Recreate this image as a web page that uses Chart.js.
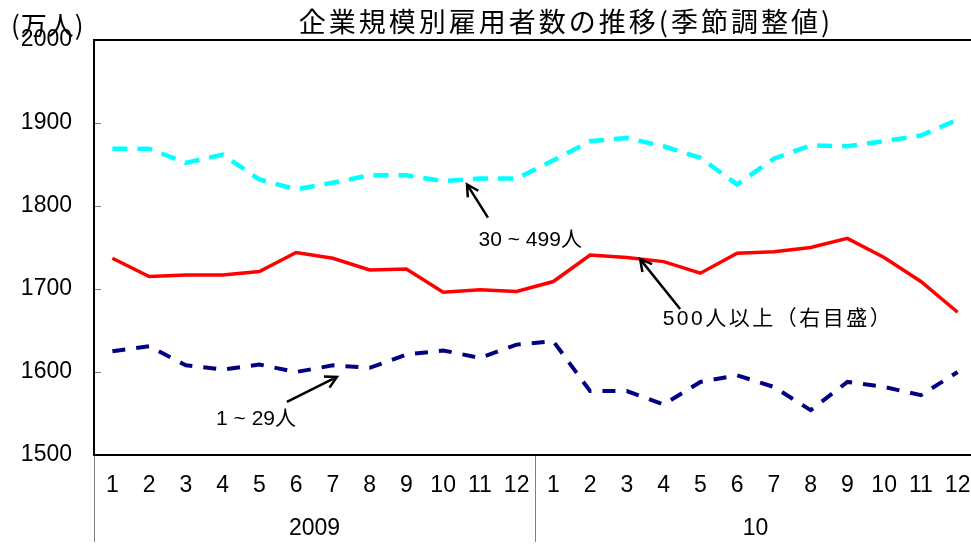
<!DOCTYPE html>
<html>
<head>
<meta charset="utf-8">
<script src="https://cdn.jsdelivr.net/npm/chart.js@4/dist/chart.umd.min.js"></script>
<style>
html,body{margin:0;padding:0;overflow:hidden;background:#fff}
#wrap{width:1000px;height:545px}
</style>
</head>
<body>
<div id="wrap"><canvas id="c" width="1000" height="545"></canvas></div>
<script>
// 月ラベルと年ラベル
const months = ['1','2','3','4','5','6','7','8','9','10','11','12','1','2','3','4','5','6','7','8','9','10','11','12'];
const years = ['2009','10'];

// 雇用者数（万人）
const small = [1625,1631,1608,1603,1609,1600,1608,1605,1621,1626,1617,1633,1637,1577,1577,1561,1588,1596,1582,1554,1588,1582,1572,1600]; // 1~29人
const mid = [1869,1869,1852,1862,1832,1820,1828,1837,1837,1830,1833,1833,1855,1878,1882,1872,1858,1826,1857,1873,1872,1878,1885,1904]; // 30~499人
const large = [1737,1715,1717,1717,1721,1744,1737,1723,1724,1696,1699,1697,1709,1741,1738,1733,1719,1743,1745,1750,1761,1738,1709,1672]; // 500人以上

const title = '企業規模別雇用者数の推移(季節調整値)';
const unit = '(万人)';

// 注記: テキストと矢印（index, 値）
const notes = [
  { text:'30 ~ 499人', at:[11.37,1759], from:[10.22,1786], to:[9.65,1826], sp:0 },
  { text:'500人以上（右目盛）', at:[18.11,1664], from:[15.45,1676], to:[14.36,1736], sp:2.5 },
  { text:'1 ~ 29人', at:[3.91,1543], from:[4.75,1564], to:[6.11,1594], sp:0 }
];

const numFont = '"Liberation Sans", "Noto Sans CJK JP", sans-serif';
const jpFont = '"Noto Sans CJK JP", sans-serif';

function arrow(ctx, x1, y1, x2, y2){
  const a = Math.atan2(y2-y1, x2-x1);
  const len = 13, sp = 0.5;
  ctx.beginPath();
  ctx.moveTo(x1,y1); ctx.lineTo(x2,y2);
  ctx.moveTo(x2 - len*Math.cos(a-sp), y2 - len*Math.sin(a-sp));
  ctx.lineTo(x2,y2);
  ctx.lineTo(x2 - len*Math.cos(a+sp), y2 - len*Math.sin(a+sp));
  ctx.stroke();
}

const decor = {
  id:'decor',
  beforeDatasetsDraw(chart){
    const {ctx, chartArea:a, scales:{x,y}} = chart;
    ctx.save();
    // 内向き目盛
    ctx.strokeStyle = '#808080'; ctx.lineWidth = 1;
    y.ticks.forEach(t=>{
      if(t.value===y.min || t.value===y.max) return;
      const py = Math.round(y.getPixelForValue(t.value))+0.5;
      ctx.beginPath(); ctx.moveTo(a.left, py); ctx.lineTo(a.left+7, py); ctx.stroke();
    });
    // 年の区切り線
    for(let k=0;k<=years.length;k++){
      const px = Math.round(x.getPixelForValue(k*12-0.5))+0.5;
      ctx.beginPath(); ctx.moveTo(px, a.bottom); ctx.lineTo(px, 542); ctx.stroke();
    }
    // 枠
    ctx.strokeStyle = '#000'; ctx.lineWidth = 2;
    ctx.strokeRect(a.left, a.top, a.right-a.left, a.bottom-a.top);
    // x ラベル
    ctx.fillStyle = '#000';
    ctx.font = '23px ' + numFont;
    ctx.textAlign = 'center'; ctx.textBaseline = 'middle';
    months.forEach((m,i)=> ctx.fillText(m, x.getPixelForValue(i), a.bottom+31));
    years.forEach((yr,k)=> ctx.fillText(yr, x.getPixelForValue(k*12+5.5), a.bottom+74));
    ctx.restore();
  },
  afterDraw(chart){
    const {ctx, scales:{x,y}} = chart;
    ctx.save();
    ctx.fillStyle = '#000';
    ctx.textBaseline = 'middle';
    // タイトル
    ctx.font = '27px ' + jpFont;
    ctx.letterSpacing = '3px';
    ctx.textAlign = 'center';
    ctx.fillText(title, 566, 22);
    ctx.letterSpacing = '1px';
    ctx.font = '26px ' + jpFont;
    ctx.textAlign = 'left';
    ctx.fillText(unit, 11, 25);
    // 注記
    ctx.font = '21px ' + numFont;
    ctx.textAlign = 'center';
    ctx.strokeStyle = '#000'; ctx.lineWidth = 2.5;
    notes.forEach(n=>{
      ctx.letterSpacing = n.sp + 'px';
      ctx.fillText(n.text, x.getPixelForValue(n.at[0]), y.getPixelForValue(n.at[1]));
      arrow(ctx, x.getPixelForValue(n.from[0]), y.getPixelForValue(n.from[1]),
                 x.getPixelForValue(n.to[0]), y.getPixelForValue(n.to[1]));
    });
    ctx.restore();
  }
};

new Chart(document.getElementById('c').getContext('2d'), {
  type:'line',
  data:{
    labels: months.map((m,i)=> (i<12?years[0]:years[1]) + '-' + m),
    datasets:[
      { label:'30~499人', data:mid, borderColor:'#00FFFF', borderWidth:4.5, borderDash:[15,10], pointRadius:0, tension:0 },
      { label:'500人以上', data:large, borderColor:'#FF0000', borderWidth:3.5, pointRadius:0, tension:0 },
      { label:'1~29人', data:small, borderColor:'#000080', borderWidth:4, borderDash:[13,11], pointRadius:0, tension:0 }
    ]
  },
  options:{
    responsive:false,
    devicePixelRatio:1,
    animation:false,
    layout:{ padding:{ top:40, right:24, bottom:90, left:0 } },
    plugins:{ legend:{display:false}, title:{display:false}, tooltip:{enabled:false} },
    scales:{
      x:{ display:false, offset:true },
      y:{
        min:1500, max:2000,
        ticks:{ stepSize:100, color:'#000', padding:22, font:{ family:numFont, size:23 }, callback:v=>String(v) },
        grid:{ display:false, drawTicks:false },
        border:{ display:false },
        afterFit(s){ s.width = 94; }
      }
    }
  },
  plugins:[decor]
});
</script>
</body>
</html>
